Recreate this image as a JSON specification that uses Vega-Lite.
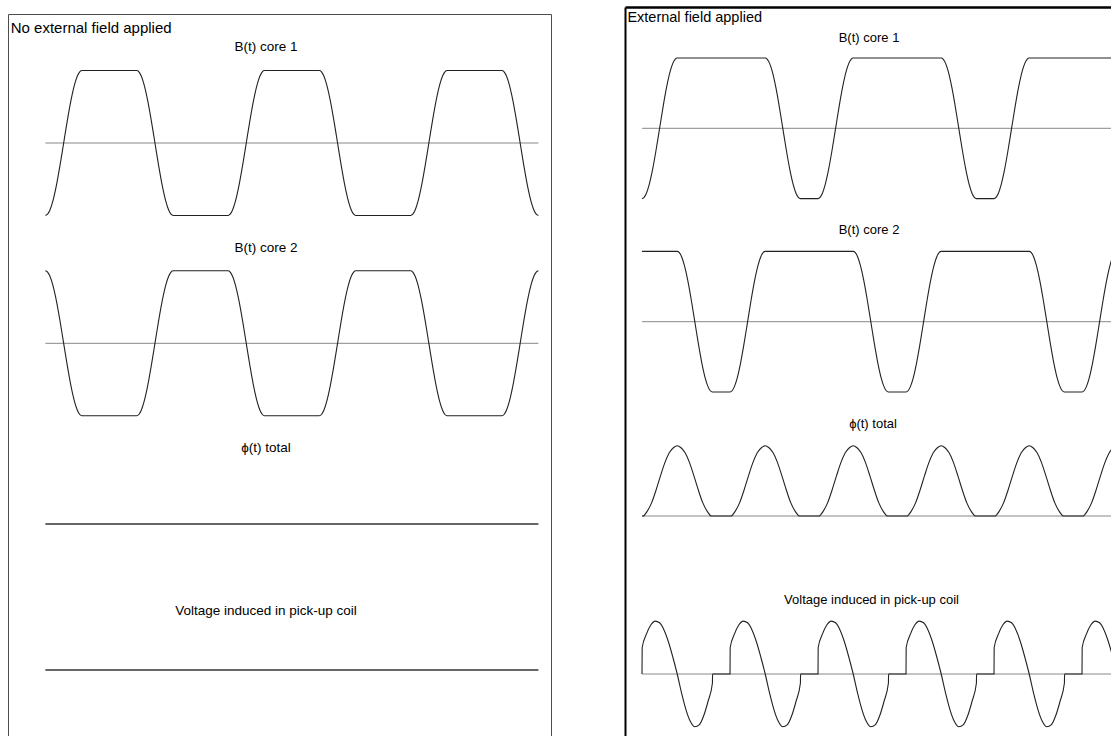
{
  "$schema": "https://vega.github.io/schema/vega-lite/v6.json",
  "padding": {"left": 8, "top": 4, "right": 0, "bottom": 0},
  "spacing": 74,
  "columns": 2,
  "align": "none",
  "config": {"view": {"stroke": null}, "text": {"font": "Liberation Sans", "color": "#000"}},
  "datasets": {
    "lc1": [{"t":0,"v":-1},{"t":0.012,"v":-0.982},{"t":0.025,"v":-0.924},{"t":0.04,"v":-0.809},{"t":0.06,"v":-0.588},{"t":0.08,"v":-0.309},{"t":0.1,"v":0},{"t":0.12,"v":0.309},{"t":0.14,"v":0.588},{"t":0.16,"v":0.809},{"t":0.175,"v":0.924},{"t":0.188,"v":0.982},{"t":0.2,"v":1},
      {"t":0.5,"v":1},{"t":0.512,"v":0.982},{"t":0.525,"v":0.924},{"t":0.54,"v":0.809},{"t":0.56,"v":0.588},{"t":0.58,"v":0.309},{"t":0.6,"v":0},{"t":0.62,"v":-0.309},{"t":0.64,"v":-0.588},{"t":0.66,"v":-0.809},{"t":0.675,"v":-0.924},{"t":0.688,"v":-0.982},{"t":0.7,"v":-1},
      {"t":1.0,"v":-1},{"t":1.012,"v":-0.982},{"t":1.025,"v":-0.924},{"t":1.04,"v":-0.809},{"t":1.06,"v":-0.588},{"t":1.08,"v":-0.309},{"t":1.1,"v":0},{"t":1.12,"v":0.309},{"t":1.14,"v":0.588},{"t":1.16,"v":0.809},{"t":1.175,"v":0.924},{"t":1.188,"v":0.982},{"t":1.2,"v":1},
      {"t":1.5,"v":1},{"t":1.512,"v":0.982},{"t":1.525,"v":0.924},{"t":1.54,"v":0.809},{"t":1.56,"v":0.588},{"t":1.58,"v":0.309},{"t":1.6,"v":0},{"t":1.62,"v":-0.309},{"t":1.64,"v":-0.588},{"t":1.66,"v":-0.809},{"t":1.675,"v":-0.924},{"t":1.688,"v":-0.982},{"t":1.7,"v":-1},
      {"t":2.0,"v":-1},{"t":2.012,"v":-0.982},{"t":2.025,"v":-0.924},{"t":2.04,"v":-0.809},{"t":2.06,"v":-0.588},{"t":2.08,"v":-0.309},{"t":2.1,"v":0},{"t":2.12,"v":0.309},{"t":2.14,"v":0.588},{"t":2.16,"v":0.809},{"t":2.175,"v":0.924},{"t":2.188,"v":0.982},{"t":2.2,"v":1},
      {"t":2.5,"v":1},{"t":2.512,"v":0.982},{"t":2.525,"v":0.924},{"t":2.54,"v":0.809},{"t":2.56,"v":0.588},{"t":2.58,"v":0.309},{"t":2.6,"v":0},{"t":2.62,"v":-0.309},{"t":2.64,"v":-0.588},{"t":2.66,"v":-0.809},{"t":2.675,"v":-0.924},{"t":2.688,"v":-0.982},{"t":2.7,"v":-1}],
    "lc2": [{"t":0,"v":1},{"t":0.012,"v":0.982},{"t":0.025,"v":0.924},{"t":0.04,"v":0.809},{"t":0.06,"v":0.588},{"t":0.08,"v":0.309},{"t":0.1,"v":0},{"t":0.12,"v":-0.309},{"t":0.14,"v":-0.588},{"t":0.16,"v":-0.809},{"t":0.175,"v":-0.924},{"t":0.188,"v":-0.982},{"t":0.2,"v":-1},
      {"t":0.5,"v":-1},{"t":0.512,"v":-0.982},{"t":0.525,"v":-0.924},{"t":0.54,"v":-0.809},{"t":0.56,"v":-0.588},{"t":0.58,"v":-0.309},{"t":0.6,"v":0},{"t":0.62,"v":0.309},{"t":0.64,"v":0.588},{"t":0.66,"v":0.809},{"t":0.675,"v":0.924},{"t":0.688,"v":0.982},{"t":0.7,"v":1},
      {"t":1.0,"v":1},{"t":1.012,"v":0.982},{"t":1.025,"v":0.924},{"t":1.04,"v":0.809},{"t":1.06,"v":0.588},{"t":1.08,"v":0.309},{"t":1.1,"v":0},{"t":1.12,"v":-0.309},{"t":1.14,"v":-0.588},{"t":1.16,"v":-0.809},{"t":1.175,"v":-0.924},{"t":1.188,"v":-0.982},{"t":1.2,"v":-1},
      {"t":1.5,"v":-1},{"t":1.512,"v":-0.982},{"t":1.525,"v":-0.924},{"t":1.54,"v":-0.809},{"t":1.56,"v":-0.588},{"t":1.58,"v":-0.309},{"t":1.6,"v":0},{"t":1.62,"v":0.309},{"t":1.64,"v":0.588},{"t":1.66,"v":0.809},{"t":1.675,"v":0.924},{"t":1.688,"v":0.982},{"t":1.7,"v":1},
      {"t":2.0,"v":1},{"t":2.012,"v":0.982},{"t":2.025,"v":0.924},{"t":2.04,"v":0.809},{"t":2.06,"v":0.588},{"t":2.08,"v":0.309},{"t":2.1,"v":0},{"t":2.12,"v":-0.309},{"t":2.14,"v":-0.588},{"t":2.16,"v":-0.809},{"t":2.175,"v":-0.924},{"t":2.188,"v":-0.982},{"t":2.2,"v":-1},
      {"t":2.5,"v":-1},{"t":2.512,"v":-0.982},{"t":2.525,"v":-0.924},{"t":2.54,"v":-0.809},{"t":2.56,"v":-0.588},{"t":2.58,"v":-0.309},{"t":2.6,"v":0},{"t":2.62,"v":0.309},{"t":2.64,"v":0.588},{"t":2.66,"v":0.809},{"t":2.675,"v":0.924},{"t":2.688,"v":0.982},{"t":2.7,"v":1}],
    "lzero": [{"t":0,"v":0},{"t":2.7,"v":0}],
    "rc1": [{"t":0,"v":-1},{"t":0.012,"v":-0.982},{"t":0.025,"v":-0.924},{"t":0.04,"v":-0.809},{"t":0.06,"v":-0.588},{"t":0.08,"v":-0.309},{"t":0.1,"v":0},{"t":0.12,"v":0.309},{"t":0.14,"v":0.588},{"t":0.16,"v":0.809},{"t":0.175,"v":0.924},{"t":0.188,"v":0.982},{"t":0.2,"v":1},
      {"t":0.7,"v":1},{"t":0.712,"v":0.982},{"t":0.725,"v":0.924},{"t":0.74,"v":0.809},{"t":0.76,"v":0.588},{"t":0.78,"v":0.309},{"t":0.8,"v":0},{"t":0.82,"v":-0.309},{"t":0.84,"v":-0.588},{"t":0.86,"v":-0.809},{"t":0.875,"v":-0.924},{"t":0.888,"v":-0.982},{"t":0.9,"v":-1},
      {"t":1.0,"v":-1},{"t":1.012,"v":-0.982},{"t":1.025,"v":-0.924},{"t":1.04,"v":-0.809},{"t":1.06,"v":-0.588},{"t":1.08,"v":-0.309},{"t":1.1,"v":0},{"t":1.12,"v":0.309},{"t":1.14,"v":0.588},{"t":1.16,"v":0.809},{"t":1.175,"v":0.924},{"t":1.188,"v":0.982},{"t":1.2,"v":1},
      {"t":1.7,"v":1},{"t":1.712,"v":0.982},{"t":1.725,"v":0.924},{"t":1.74,"v":0.809},{"t":1.76,"v":0.588},{"t":1.78,"v":0.309},{"t":1.8,"v":0},{"t":1.82,"v":-0.309},{"t":1.84,"v":-0.588},{"t":1.86,"v":-0.809},{"t":1.875,"v":-0.924},{"t":1.888,"v":-0.982},{"t":1.9,"v":-1},
      {"t":2.0,"v":-1},{"t":2.012,"v":-0.982},{"t":2.025,"v":-0.924},{"t":2.04,"v":-0.809},{"t":2.06,"v":-0.588},{"t":2.08,"v":-0.309},{"t":2.1,"v":0},{"t":2.12,"v":0.309},{"t":2.14,"v":0.588},{"t":2.16,"v":0.809},{"t":2.175,"v":0.924},{"t":2.188,"v":0.982},{"t":2.2,"v":1},
      {"t":2.75,"v":1}],
    "rc2": [{"t":0,"v":1},{"t":0.2,"v":1},{"t":0.212,"v":0.982},{"t":0.225,"v":0.924},{"t":0.24,"v":0.809},{"t":0.26,"v":0.588},{"t":0.28,"v":0.309},{"t":0.3,"v":0},{"t":0.32,"v":-0.309},{"t":0.34,"v":-0.588},{"t":0.36,"v":-0.809},{"t":0.375,"v":-0.924},{"t":0.388,"v":-0.982},{"t":0.4,"v":-1},
      {"t":0.5,"v":-1},{"t":0.512,"v":-0.982},{"t":0.525,"v":-0.924},{"t":0.54,"v":-0.809},{"t":0.56,"v":-0.588},{"t":0.58,"v":-0.309},{"t":0.6,"v":0},{"t":0.62,"v":0.309},{"t":0.64,"v":0.588},{"t":0.66,"v":0.809},{"t":0.675,"v":0.924},{"t":0.688,"v":0.982},{"t":0.7,"v":1},
      {"t":1.2,"v":1},{"t":1.212,"v":0.982},{"t":1.225,"v":0.924},{"t":1.24,"v":0.809},{"t":1.26,"v":0.588},{"t":1.28,"v":0.309},{"t":1.3,"v":0},{"t":1.32,"v":-0.309},{"t":1.34,"v":-0.588},{"t":1.36,"v":-0.809},{"t":1.375,"v":-0.924},{"t":1.388,"v":-0.982},{"t":1.4,"v":-1},
      {"t":1.5,"v":-1},{"t":1.512,"v":-0.982},{"t":1.525,"v":-0.924},{"t":1.54,"v":-0.809},{"t":1.56,"v":-0.588},{"t":1.58,"v":-0.309},{"t":1.6,"v":0},{"t":1.62,"v":0.309},{"t":1.64,"v":0.588},{"t":1.66,"v":0.809},{"t":1.675,"v":0.924},{"t":1.688,"v":0.982},{"t":1.7,"v":1},
      {"t":2.2,"v":1},{"t":2.212,"v":0.982},{"t":2.225,"v":0.924},{"t":2.24,"v":0.809},{"t":2.26,"v":0.588},{"t":2.28,"v":0.309},{"t":2.3,"v":0},{"t":2.32,"v":-0.309},{"t":2.34,"v":-0.588},{"t":2.36,"v":-0.809},{"t":2.375,"v":-0.924},{"t":2.388,"v":-0.982},{"t":2.4,"v":-1},
      {"t":2.5,"v":-1},{"t":2.512,"v":-0.982},{"t":2.525,"v":-0.924},{"t":2.54,"v":-0.809},{"t":2.56,"v":-0.588},{"t":2.58,"v":-0.309},{"t":2.6,"v":0},{"t":2.62,"v":0.309},{"t":2.64,"v":0.588},{"t":2.66,"v":0.809},{"t":2.675,"v":0.924},{"t":2.688,"v":0.982},{"t":2.7,"v":1},{"t":2.75,"v":1}],
    "rphi": [{"t":0,"v":0},{"t":0.005,"v":0},{"t":0.03,"v":0.07},{"t":0.055,"v":0.19},{"t":0.08,"v":0.37},{"t":0.105,"v":0.57},{"t":0.13,"v":0.76},{"t":0.155,"v":0.9},{"t":0.18,"v":0.975},{"t":0.2,"v":1},{"t":0.22,"v":0.975},{"t":0.245,"v":0.9},{"t":0.27,"v":0.76},{"t":0.295,"v":0.57},{"t":0.32,"v":0.37},{"t":0.345,"v":0.19},{"t":0.37,"v":0.07},{"t":0.395,"v":0},
      {"t":0.505,"v":0},{"t":0.53,"v":0.07},{"t":0.555,"v":0.19},{"t":0.58,"v":0.37},{"t":0.605,"v":0.57},{"t":0.63,"v":0.76},{"t":0.655,"v":0.9},{"t":0.68,"v":0.975},{"t":0.7,"v":1},{"t":0.72,"v":0.975},{"t":0.745,"v":0.9},{"t":0.77,"v":0.76},{"t":0.795,"v":0.57},{"t":0.82,"v":0.37},{"t":0.845,"v":0.19},{"t":0.87,"v":0.07},{"t":0.895,"v":0},
      {"t":1.005,"v":0},{"t":1.03,"v":0.07},{"t":1.055,"v":0.19},{"t":1.08,"v":0.37},{"t":1.105,"v":0.57},{"t":1.13,"v":0.76},{"t":1.155,"v":0.9},{"t":1.18,"v":0.975},{"t":1.2,"v":1},{"t":1.22,"v":0.975},{"t":1.245,"v":0.9},{"t":1.27,"v":0.76},{"t":1.295,"v":0.57},{"t":1.32,"v":0.37},{"t":1.345,"v":0.19},{"t":1.37,"v":0.07},{"t":1.395,"v":0},
      {"t":1.505,"v":0},{"t":1.53,"v":0.07},{"t":1.555,"v":0.19},{"t":1.58,"v":0.37},{"t":1.605,"v":0.57},{"t":1.63,"v":0.76},{"t":1.655,"v":0.9},{"t":1.68,"v":0.975},{"t":1.7,"v":1},{"t":1.72,"v":0.975},{"t":1.745,"v":0.9},{"t":1.77,"v":0.76},{"t":1.795,"v":0.57},{"t":1.82,"v":0.37},{"t":1.845,"v":0.19},{"t":1.87,"v":0.07},{"t":1.895,"v":0},
      {"t":2.005,"v":0},{"t":2.03,"v":0.07},{"t":2.055,"v":0.19},{"t":2.08,"v":0.37},{"t":2.105,"v":0.57},{"t":2.13,"v":0.76},{"t":2.155,"v":0.9},{"t":2.18,"v":0.975},{"t":2.2,"v":1},{"t":2.22,"v":0.975},{"t":2.245,"v":0.9},{"t":2.27,"v":0.76},{"t":2.295,"v":0.57},{"t":2.32,"v":0.37},{"t":2.345,"v":0.19},{"t":2.37,"v":0.07},{"t":2.395,"v":0},
      {"t":2.505,"v":0},{"t":2.53,"v":0.07},{"t":2.555,"v":0.19},{"t":2.58,"v":0.37},{"t":2.605,"v":0.57},{"t":2.63,"v":0.76},{"t":2.655,"v":0.9},{"t":2.68,"v":0.975},{"t":2.7,"v":1}],
    "rv": [{"t":0,"v":0},{"t":0.001,"v":0.5},{"t":0.025,"v":0.752},{"t":0.05,"v":0.924},{"t":0.075,"v":0.998},{"t":0.1,"v":0.966},{"t":0.125,"v":0.831},{"t":0.15,"v":0.609},{"t":0.175,"v":0.321},{"t":0.2,"v":0},{"t":0.225,"v":-0.362},{"t":0.25,"v":-0.676},{"t":0.275,"v":-0.897},{"t":0.3,"v":-0.996},{"t":0.325,"v":-0.96},{"t":0.35,"v":-0.793},{"t":0.375,"v":-0.519},{"t":0.4,"v":-0.174},{"t":0.401,"v":0},
      {"t":0.5,"v":0},{"t":0.501,"v":0.5},{"t":0.525,"v":0.752},{"t":0.55,"v":0.924},{"t":0.575,"v":0.998},{"t":0.6,"v":0.966},{"t":0.625,"v":0.831},{"t":0.65,"v":0.609},{"t":0.675,"v":0.321},{"t":0.7,"v":0},{"t":0.725,"v":-0.362},{"t":0.75,"v":-0.676},{"t":0.775,"v":-0.897},{"t":0.8,"v":-0.996},{"t":0.825,"v":-0.96},{"t":0.85,"v":-0.793},{"t":0.875,"v":-0.519},{"t":0.9,"v":-0.174},{"t":0.901,"v":0},
      {"t":1.0,"v":0},{"t":1.001,"v":0.5},{"t":1.025,"v":0.752},{"t":1.05,"v":0.924},{"t":1.075,"v":0.998},{"t":1.1,"v":0.966},{"t":1.125,"v":0.831},{"t":1.15,"v":0.609},{"t":1.175,"v":0.321},{"t":1.2,"v":0},{"t":1.225,"v":-0.362},{"t":1.25,"v":-0.676},{"t":1.275,"v":-0.897},{"t":1.3,"v":-0.996},{"t":1.325,"v":-0.96},{"t":1.35,"v":-0.793},{"t":1.375,"v":-0.519},{"t":1.4,"v":-0.174},{"t":1.401,"v":0},
      {"t":1.5,"v":0},{"t":1.501,"v":0.5},{"t":1.525,"v":0.752},{"t":1.55,"v":0.924},{"t":1.575,"v":0.998},{"t":1.6,"v":0.966},{"t":1.625,"v":0.831},{"t":1.65,"v":0.609},{"t":1.675,"v":0.321},{"t":1.7,"v":0},{"t":1.725,"v":-0.362},{"t":1.75,"v":-0.676},{"t":1.775,"v":-0.897},{"t":1.8,"v":-0.996},{"t":1.825,"v":-0.96},{"t":1.85,"v":-0.793},{"t":1.875,"v":-0.519},{"t":1.9,"v":-0.174},{"t":1.901,"v":0},
      {"t":2.0,"v":0},{"t":2.001,"v":0.5},{"t":2.025,"v":0.752},{"t":2.05,"v":0.924},{"t":2.075,"v":0.998},{"t":2.1,"v":0.966},{"t":2.125,"v":0.831},{"t":2.15,"v":0.609},{"t":2.175,"v":0.321},{"t":2.2,"v":0},{"t":2.225,"v":-0.362},{"t":2.25,"v":-0.676},{"t":2.275,"v":-0.897},{"t":2.3,"v":-0.996},{"t":2.325,"v":-0.96},{"t":2.35,"v":-0.793},{"t":2.375,"v":-0.519},{"t":2.4,"v":-0.174},{"t":2.401,"v":0},
      {"t":2.5,"v":0},{"t":2.501,"v":0.5},{"t":2.525,"v":0.752},{"t":2.55,"v":0.924},{"t":2.575,"v":0.998},{"t":2.6,"v":0.966},{"t":2.625,"v":0.831},{"t":2.65,"v":0.609},{"t":2.675,"v":0.321},{"t":2.7,"v":0}],
    "rzero": [{"t":0,"v":0},{"t":2.75,"v":0}],
    "labels": [
      {"panel":"L","track":"c1","kind":"title","t":-0.19,"v":1.586,"text":"No external field applied"},
      {"panel":"L","track":"c1","kind":"label","t":1.208,"v":1.324,"text":"B(t) core 1"},
      {"panel":"L","track":"c2","kind":"label","t":1.208,"v":1.314,"text":"B(t) core 2"},
      {"panel":"L","track":"phi","kind":"label","t":1.208,"v":1.048,"text":"ϕ(t) total"},
      {"panel":"L","track":"v","kind":"label","t":1.208,"v":0.814,"text":"Voltage induced in pick-up coil"},
      {"panel":"R","track":"c1","kind":"title","t":-0.083,"v":1.569,"text":"External field applied"},
      {"panel":"R","track":"c1","kind":"label","t":1.29,"v":1.2845,"text":"B(t) core 1"},
      {"panel":"R","track":"c2","kind":"label","t":1.29,"v":1.3045,"text":"B(t) core 2"},
      {"panel":"R","track":"phi","kind":"label","t":1.3125,"v":1.3087,"text":"ϕ(t) total"},
      {"panel":"R","track":"v","kind":"label","t":1.304,"v":1.396,"text":"Voltage induced in pick-up coil"}
    ]
  },
  "concat": [
    {
      "width": 543,
      "height": 729,
      "resolve": {"scale": {"y": "independent"}, "axis": {"y": "independent"}},
      "encoding": {
        "x": {"field": "t", "type": "quantitative", "scale": {"domain": [-0.2048, 2.7689], "nice": false, "zero": false}, "axis": {"orient": "top", "offset": -7, "domain": true, "domainColor": "#4d4d4d", "domainWidth": 1, "ticks": false, "labels": false, "grid": false, "title": null, "minExtent": 0, "maxExtent": 0}}
      },
      "layer": [
        {
          "encoding": {"y": {"field": "v", "type": "quantitative", "scale": {"domain": [-8.1793, 1.7793], "range": [729, 7], "nice": false, "zero": false}, "axis": {"orient": "left", "domain": true, "domainColor": "#4d4d4d", "domainWidth": 1, "ticks": false, "labels": false, "grid": false, "title": null, "minExtent": 0, "maxExtent": 0}}},
          "layer": [
            {"data": {"name": "lzero"}, "mark": {"type": "line", "stroke": "#888", "strokeWidth": 1}},
            {"data": {"name": "lc1"}, "mark": {"type": "line", "interpolate": "monotone", "stroke": "#222", "strokeWidth": 1.1}},
            {"data": {"name": "labels"}, "transform": [{"filter": "datum.panel == 'L' && datum.track == 'c1' && datum.kind == 'title'"}],
             "mark": {"type": "text", "align": "left", "baseline": "middle", "fontSize": 15}, "encoding": {"text": {"field": "text"}}},
            {"data": {"name": "labels"}, "transform": [{"filter": "datum.panel == 'L' && datum.track == 'c1' && datum.kind == 'label'"}],
             "mark": {"type": "text", "align": "center", "baseline": "middle", "fontSize": 13.5}, "encoding": {"text": {"field": "text"}}}
          ]
        },
        {
          "encoding": {"y": {"field": "v", "type": "quantitative", "scale": {"domain": [-5.4165, 4.5421], "range": [729, 7], "nice": false, "zero": false}, "axis": {"orient": "right", "domain": true, "domainColor": "#4d4d4d", "domainWidth": 1, "ticks": false, "labels": false, "grid": false, "title": null, "minExtent": 0, "maxExtent": 0}}},
          "layer": [
            {"data": {"name": "lzero"}, "mark": {"type": "line", "stroke": "#888", "strokeWidth": 1}},
            {"data": {"name": "lc2"}, "mark": {"type": "line", "interpolate": "monotone", "stroke": "#222", "strokeWidth": 1.1}},
            {"data": {"name": "labels"}, "transform": [{"filter": "datum.panel == 'L' && datum.track == 'c2'"}],
             "mark": {"type": "text", "align": "center", "baseline": "middle", "fontSize": 13.5}, "encoding": {"text": {"field": "text"}}}
          ]
        },
        {
          "encoding": {"y": {"field": "v", "type": "quantitative", "scale": {"domain": [-2.9241, 7.0345], "range": [729, 7], "nice": false, "zero": false}, "axis": null}},
          "layer": [
            {"data": {"name": "lzero"}, "mark": {"type": "line", "stroke": "#333", "strokeWidth": 1.6}},
            {"data": {"name": "labels"}, "transform": [{"filter": "datum.panel == 'L' && datum.track == 'phi'"}],
             "mark": {"type": "text", "align": "center", "baseline": "middle", "fontSize": 13.5}, "encoding": {"text": {"field": "text"}}}
          ]
        },
        {
          "encoding": {"y": {"field": "v", "type": "quantitative", "scale": {"domain": [-0.9103, 9.0483], "range": [729, 7], "nice": false, "zero": false}, "axis": null}},
          "layer": [
            {"data": {"name": "lzero"}, "mark": {"type": "line", "stroke": "#333", "strokeWidth": 1.6}},
            {"data": {"name": "labels"}, "transform": [{"filter": "datum.panel == 'L' && datum.track == 'v'"}],
             "mark": {"type": "text", "align": "center", "baseline": "middle", "fontSize": 13.5}, "encoding": {"text": {"field": "text"}}}
          ]
        }
      ]
    },
    {
      "width": 486,
      "height": 729,
      "resolve": {"scale": {"y": "independent"}, "axis": {"y": "independent"}},
      "encoding": {
        "x": {"field": "t", "type": "quantitative", "scale": {"domain": [-0.0966, 2.6648], "nice": false, "zero": false}, "axis": {"orient": "top", "domain": true, "domainColor": "#000", "domainWidth": 2.5, "ticks": false, "labels": false, "grid": false, "title": null, "minExtent": 3, "maxExtent": 3}}
      },
      "layer": [
        {
          "encoding": {"y": {"field": "v", "type": "quantitative", "scale": {"domain": [-8.6443, 1.7255], "nice": false, "zero": false}, "axis": {"orient": "left", "domain": true, "domainColor": "#000", "domainWidth": 2, "ticks": false, "labels": false, "grid": false, "title": null, "minExtent": 0, "maxExtent": 0}}},
          "layer": [
            {"data": {"name": "rzero"}, "mark": {"type": "line", "stroke": "#888", "strokeWidth": 1, "clip": true}},
            {"data": {"name": "rc1"}, "mark": {"type": "line", "interpolate": "monotone", "stroke": "#222", "strokeWidth": 1.1, "clip": true}},
            {"data": {"name": "labels"}, "transform": [{"filter": "datum.panel == 'R' && datum.track == 'c1' && datum.kind == 'title'"}],
             "mark": {"type": "text", "align": "left", "baseline": "middle", "fontSize": 14.5}, "encoding": {"text": {"field": "text"}}},
            {"data": {"name": "labels"}, "transform": [{"filter": "datum.panel == 'R' && datum.track == 'c1' && datum.kind == 'label'"}],
             "mark": {"type": "text", "align": "center", "baseline": "middle", "fontSize": 13}, "encoding": {"text": {"field": "text"}}}
          ]
        },
        {
          "encoding": {"y": {"field": "v", "type": "quantitative", "scale": {"domain": [-5.8933, 4.4765], "nice": false, "zero": false}, "axis": null}},
          "layer": [
            {"data": {"name": "rzero"}, "mark": {"type": "line", "stroke": "#888", "strokeWidth": 1, "clip": true}},
            {"data": {"name": "rc2"}, "mark": {"type": "line", "interpolate": "monotone", "stroke": "#222", "strokeWidth": 1.1, "clip": true}},
            {"data": {"name": "labels"}, "transform": [{"filter": "datum.panel == 'R' && datum.track == 'c2'"}],
             "mark": {"type": "text", "align": "center", "baseline": "middle", "fontSize": 13}, "encoding": {"text": {"field": "text"}}}
          ]
        },
        {
          "encoding": {"y": {"field": "v", "type": "quantitative", "scale": {"domain": [-3.1294, 7.2404], "nice": false, "zero": false}, "axis": null}},
          "layer": [
            {"data": {"name": "rzero"}, "mark": {"type": "line", "stroke": "#888", "strokeWidth": 1, "clip": true}},
            {"data": {"name": "rphi"}, "mark": {"type": "line", "interpolate": "monotone", "stroke": "#222", "strokeWidth": 1.1, "clip": true}},
            {"data": {"name": "labels"}, "transform": [{"filter": "datum.panel == 'R' && datum.track == 'phi'"}],
             "mark": {"type": "text", "align": "center", "baseline": "middle", "fontSize": 13}, "encoding": {"text": {"field": "text"}}}
          ]
        },
        {
          "encoding": {"y": {"field": "v", "type": "quantitative", "scale": {"domain": [-1.1698, 12.5849], "nice": false, "zero": false}, "axis": null}},
          "layer": [
            {"data": {"name": "rzero"}, "mark": {"type": "line", "stroke": "#888", "strokeWidth": 1, "clip": true}},
            {"data": {"name": "rv"}, "mark": {"type": "line", "interpolate": "monotone", "stroke": "#222", "strokeWidth": 1.1, "clip": true}},
            {"data": {"name": "labels"}, "transform": [{"filter": "datum.panel == 'R' && datum.track == 'v'"}],
             "mark": {"type": "text", "align": "center", "baseline": "middle", "fontSize": 13}, "encoding": {"text": {"field": "text"}}}
          ]
        }
      ]
    }
  ]
}
